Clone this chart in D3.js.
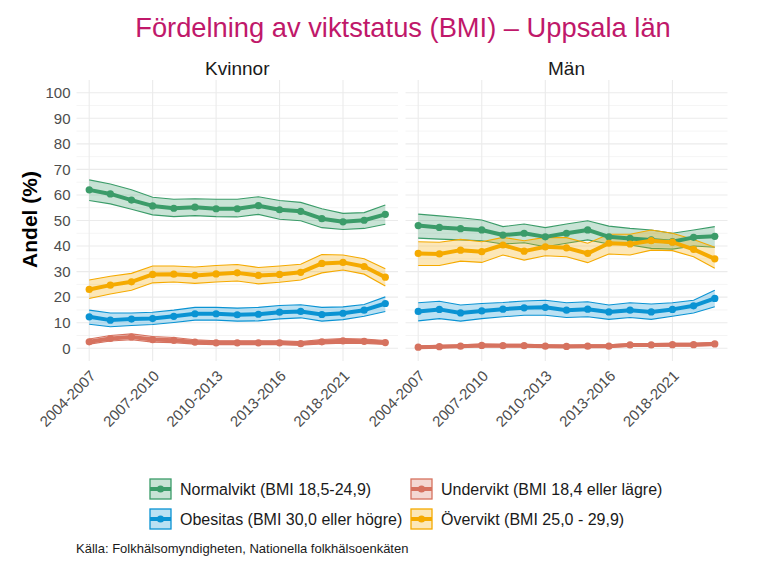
<!DOCTYPE html>
<html>
<head>
<meta charset="utf-8">
<script src="https://cdn.jsdelivr.net/npm/d3@7"></script>
<style>
  body { margin: 0; background: #fff; }
  text { font-family: "Liberation Sans", Arial, sans-serif; }
</style>
</head>
<body>
<script>
// periods on the x axis
const perioder = ["2004-2007", "2005-2008", "2006-2009", "2007-2010", "2008-2011",
  "2009-2012", "2010-2013", "2011-2014", "2012-2015", "2013-2016",
  "2015-2018", "2017-2020", "2018-2021", "2019-2022", "2020-2023"];
const visadeEtiketter = ["2004-2007", "2007-2010", "2010-2013", "2013-2016", "2018-2021"];

const kon = ["Kvinnor", "Män"];
const grupper = ["Normalvikt (BMI 18,5-24,9)", "Obesitas (BMI 30,0 eller högre)",
  "Undervikt (BMI 18,4 eller lägre)", "Övervikt (BMI 25,0 - 29,9)"];
const farger = ["#3b9c69", "#0a93d3", "#d6725f", "#f5aa00"];

// Kvinnor
const kNormal = [62.0, 60.4, 58.0, 55.7, 54.8, 55.2, 54.6, 54.6, 55.8, 54.2, 53.6, 50.7, 49.5, 50.1, 52.4];
const kNormalHi = [65.9, 64.3, 62.0, 59.1, 58.3, 58.5, 58.3, 58.3, 59.3, 57.8, 57.1, 54.6, 52.8, 53.1, 56.1];
const kNormalLo = [57.8, 56.5, 54.4, 52.2, 51.5, 51.9, 51.5, 51.4, 52.4, 50.5, 49.9, 47.2, 46.5, 46.9, 48.5];
const kObes = [12.3, 11.0, 11.4, 11.6, 12.5, 13.5, 13.5, 13.1, 13.3, 14.1, 14.4, 13.2, 13.7, 14.9, 17.5];
const kObesHi = [14.9, 13.8, 13.8, 14.1, 14.9, 16.0, 16.0, 15.7, 16.0, 16.7, 17.0, 16.0, 16.2, 17.1, 20.1];
const kObesLo = [9.4, 8.4, 8.9, 9.3, 10.1, 11.0, 11.0, 10.6, 10.7, 11.5, 11.9, 10.6, 11.2, 12.5, 14.4];
const kUnder = [2.5, 3.8, 4.4, 3.4, 3.1, 2.4, 2.1, 2.1, 2.1, 2.1, 1.8, 2.5, 2.9, 2.7, 2.2];
const kUnderHi = [3.6, 5.0, 5.6, 4.6, 4.2, 3.3, 2.9, 2.9, 2.9, 2.9, 2.6, 3.4, 3.8, 3.6, 3.0];
const kUnderLo = [1.6, 2.8, 3.3, 2.4, 2.2, 1.6, 1.4, 1.4, 1.4, 1.4, 1.2, 1.7, 2.0, 1.9, 1.5];
const kOver = [23.0, 24.7, 26.0, 28.9, 29.0, 28.5, 29.1, 29.5, 28.5, 28.9, 29.7, 33.2, 33.6, 32.0, 27.8];
const kOverHi = [26.7, 28.2, 29.3, 32.2, 32.2, 31.8, 32.4, 32.8, 31.6, 32.2, 32.9, 36.7, 36.5, 35.0, 31.1];
const kOverLo = [19.5, 21.2, 22.7, 25.6, 25.9, 25.4, 25.9, 26.3, 25.2, 25.8, 26.7, 29.5, 30.6, 29.0, 24.4];

// Män
const mNormal = [48.0, 47.3, 46.8, 46.3, 44.3, 45.0, 43.6, 45.0, 46.3, 43.6, 43.0, 42.4, 41.7, 43.4, 43.8];
const mNormalHi = [52.5, 51.8, 51.1, 50.2, 47.6, 48.6, 47.2, 48.6, 49.9, 47.8, 46.9, 46.3, 45.0, 46.3, 47.6];
const mNormalLo = [43.1, 42.7, 42.4, 42.1, 40.8, 41.3, 39.7, 41.1, 42.4, 40.8, 40.4, 39.1, 38.8, 40.0, 39.5];
const mObes = [14.4, 15.2, 13.8, 14.6, 15.3, 15.8, 16.0, 14.9, 15.3, 14.2, 14.9, 14.2, 15.2, 16.6, 19.5];
const mObesHi = [17.8, 18.4, 16.9, 17.5, 17.9, 18.5, 18.8, 17.8, 18.2, 16.9, 17.8, 17.3, 17.8, 18.8, 22.7];
const mObesLo = [10.7, 11.6, 10.6, 11.6, 12.3, 12.9, 12.9, 12.0, 12.3, 11.3, 12.0, 11.3, 12.5, 13.8, 16.2];
const mUnder = [0.4, 0.6, 0.8, 1.1, 1.0, 1.0, 0.8, 0.7, 0.8, 0.8, 1.3, 1.3, 1.4, 1.4, 1.7];
const mUnderHi = [0.9, 1.1, 1.3, 1.6, 1.5, 1.5, 1.3, 1.2, 1.3, 1.3, 1.8, 1.8, 1.9, 1.9, 2.3];
const mUnderLo = [0.1, 0.2, 0.4, 0.6, 0.6, 0.6, 0.4, 0.3, 0.4, 0.4, 0.8, 0.8, 0.9, 0.9, 1.1];
const mOver = [37.1, 36.9, 38.4, 37.8, 40.4, 38.0, 39.7, 39.3, 37.1, 41.1, 40.8, 42.1, 41.5, 38.7, 35.0];
const mOverHi = [41.7, 41.5, 42.6, 41.7, 43.4, 42.1, 43.4, 43.3, 41.1, 44.6, 44.6, 46.3, 45.0, 42.6, 39.5];
const mOverLo = [32.4, 32.4, 34.1, 33.6, 36.5, 34.5, 36.2, 35.8, 33.5, 36.9, 36.5, 38.4, 38.2, 35.8, 31.3];

const serier = {
  "Kvinnor": [[kNormal, kNormalLo, kNormalHi], [kObes, kObesLo, kObesHi], [kUnder, kUnderLo, kUnderHi], [kOver, kOverLo, kOverHi]],
  "Män": [[mNormal, mNormalLo, mNormalHi], [mObes, mObesLo, mObesHi], [mUnder, mUnderLo, mUnderHi], [mOver, mOverLo, mOverHi]]
};

const W = 768, H = 576;
const svg = d3.select("body").append("svg").attr("width", W).attr("height", H);

const panelTop = 80, panelBottom = 361;
const panels = [{ x0: 76.5, x1: 398 }, { x0: 405.5, x1: 727.5 }];

const y = d3.scaleLinear().domain([-5, 105]).range([panelBottom, panelTop]);

svg.append("text")
  .attr("x", (panels[0].x0 + panels[1].x1) / 2 + 1).attr("y", 37)
  .attr("text-anchor", "middle").attr("font-size", 27.3).attr("fill", "#c0186a")
  .text("Fördelning av viktstatus (BMI) – Uppsala län");

svg.append("text")
  .attr("transform", "translate(37," + (y(50) - 1) + ") rotate(-90)")
  .attr("text-anchor", "middle").attr("font-size", 21).attr("font-weight", "bold")
  .text("Andel (%)");

kon.forEach((k, pi) => {
  const p = panels[pi];
  const x = d3.scalePoint().domain(perioder).range([p.x0, p.x1]).padding(0.6);
  const g = svg.append("g");

  // grid
  d3.range(0, 101, 5).forEach(v => {
    g.append("line").attr("x1", p.x0).attr("x2", p.x1).attr("y1", y(v)).attr("y2", y(v))
      .attr("stroke", "#ebebeb").attr("stroke-width", v % 10 === 0 ? 1.1 : 0.55);
  });
  visadeEtiketter.forEach(lbl => {
    g.append("line").attr("x1", x(lbl)).attr("x2", x(lbl)).attr("y1", panelTop).attr("y2", panelBottom)
      .attr("stroke", "#ebebeb").attr("stroke-width", 1.1);
  });

  // strip
  svg.append("text").attr("x", (p.x0 + p.x1) / 2).attr("y", 75)
    .attr("text-anchor", "middle").attr("font-size", 19).attr("fill", "#1a1a1a").text(k);

  // axes
  const xAxis = g.append("g").attr("transform", "translate(0," + panelBottom + ")")
    .call(d3.axisBottom(x).tickValues(visadeEtiketter).tickSize(0).tickPadding(0));
  xAxis.select(".domain").remove();
  xAxis.selectAll(".tick text")
    .attr("font-size", 15).attr("fill", "#4d4d4d")
    .attr("text-anchor", "end").attr("x", 0).attr("y", 0).attr("dy", "0.75em")
    .attr("transform", "translate(-1,8) rotate(-45)");

  if (pi === 0) {
    const yAxis = g.append("g").attr("transform", "translate(" + (p.x0 - 2) + ",0)")
      .call(d3.axisLeft(y).tickValues(d3.range(0, 101, 10)).tickSize(0).tickPadding(4));
    yAxis.select(".domain").remove();
    yAxis.selectAll("text").attr("font-size", 15).attr("fill", "#4d4d4d");
  }

  const area = d3.area().x((d, i) => x(perioder[i])).y0(d => y(d[0])).y1(d => y(d[1]));
  const line = d3.line().x((d, i) => x(perioder[i])).y(d => y(d));

  // ribbons
  serier[k].forEach((s, gi) => {
    const band = s[1].map((lo, i) => [lo, s[2][i]]);
    g.append("path").datum(band).attr("d", area)
      .attr("fill", farger[gi]).attr("fill-opacity", 0.28).attr("stroke", "none");
    g.append("path").datum(s[1]).attr("d", line).attr("fill", "none")
      .attr("stroke", farger[gi]).attr("stroke-width", 1.1);
    g.append("path").datum(s[2]).attr("d", line).attr("fill", "none")
      .attr("stroke", farger[gi]).attr("stroke-width", 1.1);
  });
  // lines and points
  serier[k].forEach((s, gi) => {
    g.append("path").datum(s[0]).attr("d", line).attr("fill", "none")
      .attr("stroke", farger[gi]).attr("stroke-width", 4).attr("stroke-linejoin", "round");
    g.selectAll(null).data(s[0]).enter().append("circle")
      .attr("cx", (d, i) => x(perioder[i])).attr("cy", d => y(d)).attr("r", 3.6)
      .attr("fill", farger[gi]);
  });
});

// legend
const legPos = [[149, 478], [149, 508], [410, 478], [410, 508]];
grupper.forEach((namn, gi) => {
  const [lx, ly] = legPos[gi];
  const lg = svg.append("g").attr("transform", "translate(" + lx + "," + ly + ")");
  lg.append("rect").attr("x", 1).attr("y", 1).attr("width", 21).attr("height", 20)
    .attr("fill", farger[gi]).attr("fill-opacity", 0.28)
    .attr("stroke", farger[gi]).attr("stroke-width", 1.3);
  lg.append("line").attr("x1", 1).attr("x2", 22).attr("y1", 11).attr("y2", 11)
    .attr("stroke", farger[gi]).attr("stroke-width", 4);
  lg.append("circle").attr("cx", 11.5).attr("cy", 11).attr("r", 3.6).attr("fill", farger[gi]);
  lg.append("text").attr("x", 31).attr("y", 16.5).attr("font-size", 16).attr("fill", "#1a1a1a").text(namn);
});

svg.append("text").attr("x", 76).attr("y", 553).attr("font-size", 13).attr("fill", "#1a1a1a")
  .text("Källa: Folkhälsomyndigheten, Nationella folkhälsoenkäten");
</script>
</body>
</html>
